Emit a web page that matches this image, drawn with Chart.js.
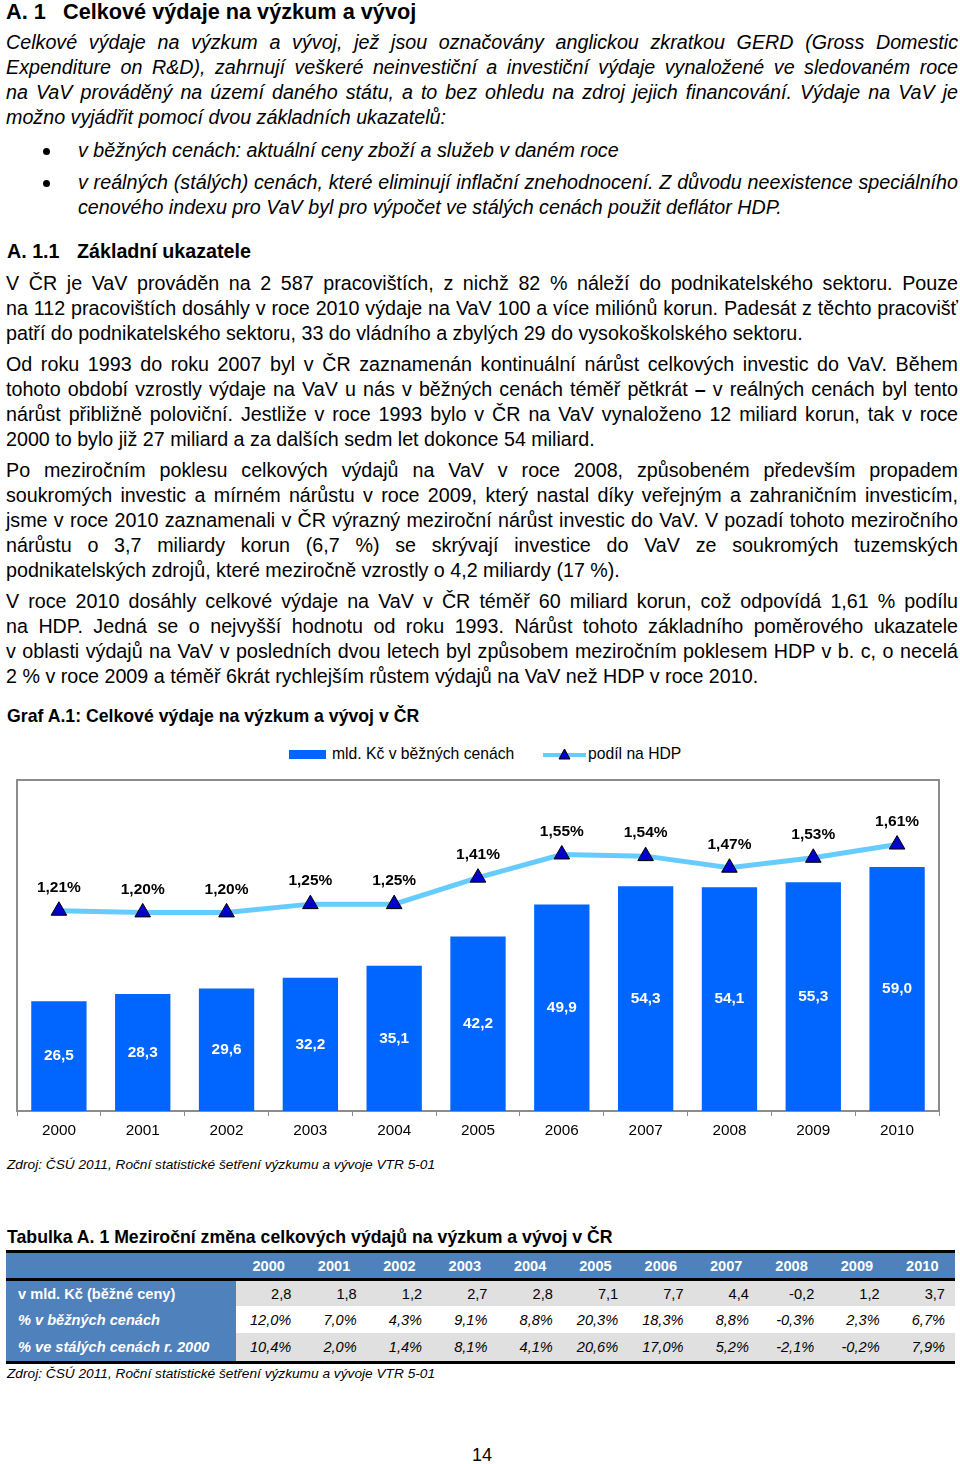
<!DOCTYPE html>
<html lang="cs">
<head>
<meta charset="utf-8">
<script src="https://cdn.jsdelivr.net/npm/chart.js@4.4.1/dist/chart.umd.min.js"></script>
<style>
body { margin: 0; background: #fff; }
#page { position: relative; width: 960px; height: 1464px; font-family: "Liberation Sans", Arial, sans-serif; color: #000; overflow: hidden; }
.ln { position: absolute; left: 6px; width: 952px; height: 25px; line-height: 25px; font-size: 19.7px; white-space: nowrap; }
.j { text-align: justify; text-align-last: justify; }
.i { font-style: italic; }
.b { font-weight: bold; }
.abs { position: absolute; white-space: nowrap; }
.bul { position: absolute; left: 43px; width: 7px; height: 7px; border-radius: 50%; background: #000; }
#graf { position: absolute; left: 7px; top: 770px; }
#tbl { position: absolute; left: 6px; top: 1250px; width: 949px; border-top: 3px solid #000; border-bottom: 3px solid #000;
       display: grid; grid-template-columns: 230px repeat(11, 1fr); grid-template-rows: 25px 3px 25px 27px 28px; font-size: 14.6px; }
#tbl div { display: flex; align-items: center; }
#tbl .hd { background: #4F81BD; color: #fff; font-weight: bold; justify-content: center; }
#tbl .lab { background: #4F81BD; color: #fff; font-weight: bold; padding-left: 12px; }
#tbl .num { justify-content: flex-end; padding-right: 10px; }
#tbl .sep { grid-column: 1 / -1; background: #000; }
</style>
</head>
<body>
<div id="page">
  <div class="abs b" style="left:6px;top:-1px;font-size:21.7px;line-height:26px;">A. 1</div>
  <div class="abs b" style="left:63px;top:-1px;font-size:21.7px;line-height:26px;">Celkové výdaje na výzkum a vývoj</div>

  <div class="ln i j" style="top:30px;">Celkové výdaje na výzkum a vývoj, jež jsou označovány anglickou zkratkou GERD (Gross Domestic</div>
  <div class="ln i j" style="top:55px;">Expenditure on R&amp;D), zahrnují veškeré neinvestiční a investiční výdaje vynaložené ve sledovaném roce</div>
  <div class="ln i j" style="top:80px;">na VaV prováděný na území daného státu, a to bez ohledu na zdroj jejich financování. Výdaje na VaV je</div>
  <div class="ln i" style="top:105px;">možno vyjádřit pomocí dvou základních ukazatelů:</div>

  <div class="bul" style="top:148px;"></div>
  <div class="ln i" style="top:138px;left:78px;width:880px;">v běžných cenách: aktuální ceny zboží a služeb v daném roce</div>
  <div class="bul" style="top:180px;"></div>
  <div class="ln i j" style="top:170px;left:78px;width:880px;">v reálných (stálých) cenách, které eliminují inflační znehodnocení. Z důvodu neexistence speciálního</div>
  <div class="ln i" style="top:195px;left:78px;width:880px;">cenového indexu pro VaV byl pro výpočet ve stálých cenách použit deflátor HDP.</div>

  <div class="abs b" style="left:7px;top:239px;font-size:19.7px;line-height:25px;">A. 1.1</div>
  <div class="abs b" style="left:77px;top:239px;font-size:19.7px;line-height:25px;">Základní ukazatele</div>

  <div class="ln j" style="top:271px;">V ČR je VaV prováděn na 2 587 pracovištích, z nichž 82 % náleží do podnikatelského sektoru. Pouze</div>
  <div class="ln j" style="top:296px;">na 112 pracovištích dosáhly v roce 2010 výdaje na VaV 100 a více miliónů korun. Padesát z těchto pracovišť</div>
  <div class="ln" style="top:321px;">patří do podnikatelského sektoru, 33 do vládního a zbylých 29 do vysokoškolského sektoru.</div>

  <div class="ln j" style="top:352px;">Od roku 1993 do roku 2007 byl v ČR zaznamenán kontinuální nárůst celkových investic do VaV. Během</div>
  <div class="ln j" style="top:377px;">tohoto období vzrostly výdaje na VaV u nás v běžných cenách téměř pětkrát <b>–</b> v reálných cenách byl tento</div>
  <div class="ln j" style="top:402px;">nárůst přibližně poloviční. Jestliže v roce 1993 bylo v ČR na VaV vynaloženo 12 miliard korun, tak v roce</div>
  <div class="ln" style="top:427px;">2000 to bylo již 27 miliard a za dalších sedm let dokonce 54 miliard.</div>

  <div class="ln j" style="top:458px;">Po meziročním poklesu celkových výdajů na VaV v roce 2008, způsobeném především propadem</div>
  <div class="ln j" style="top:483px;">soukromých investic a mírném nárůstu v roce 2009, který nastal díky veřejným a zahraničním investicím,</div>
  <div class="ln j" style="top:508px;">jsme v roce 2010 zaznamenali v ČR výrazný meziroční nárůst investic do VaV. V pozadí tohoto meziročního</div>
  <div class="ln j" style="top:533px;">nárůstu o 3,7 miliardy korun (6,7 %) se skrývají investice do VaV ze soukromých tuzemských</div>
  <div class="ln" style="top:558px;">podnikatelských zdrojů, které meziročně vzrostly o 4,2 miliardy (17 %).</div>

  <div class="ln j" style="top:589px;">V roce 2010 dosáhly celkové výdaje na VaV v ČR téměř 60 miliard korun, což odpovídá 1,61 % podílu</div>
  <div class="ln j" style="top:614px;">na HDP. Jedná se o nejvyšší hodnotu od roku 1993. Nárůst tohoto základního poměrového ukazatele</div>
  <div class="ln j" style="top:639px;">v oblasti výdajů na VaV v posledních dvou letech byl způsobem meziročním poklesem HDP v b. c, o necelá</div>
  <div class="ln" style="top:664px;">2 % v roce 2009 a téměř 6krát rychlejším růstem výdajů na VaV než HDP v roce 2010.</div>

  <div class="abs b" style="left:7px;top:704px;font-size:17.7px;line-height:24px;">Graf A.1: Celkové výdaje na výzkum a vývoj v ČR</div>

  <!-- legend -->
  <div class="abs" style="left:289px;top:750px;width:37px;height:9px;background:#0066FF;"></div>
  <div class="abs" style="left:332px;top:744px;font-size:15.7px;line-height:20px;">mld. Kč v běžných cenách</div>
  <div class="abs" style="left:543px;top:753px;width:43px;height:4px;background:#66CCFF;"></div>
  <svg class="abs" style="left:558px;top:748px;" width="13" height="12"><polygon points="6.5,1 12,11 1,11" fill="#0000CC" stroke="#000" stroke-width="1"/></svg>
  <div class="abs" style="left:588px;top:744px;font-size:15.7px;line-height:20px;">podíl na HDP</div>

  <canvas id="graf" width="942" height="375"></canvas>

  <div class="abs i" style="left:7px;top:1156px;font-size:13.7px;line-height:18px;">Zdroj: ČSÚ 2011, Roční statistické šetření výzkumu a vývoje VTR 5-01</div>

  <div class="abs b" style="left:7px;top:1225px;font-size:17.7px;line-height:24px;">Tabulka A. 1 Meziroční změna celkových výdajů na výzkum a vývoj v ČR</div>
  <div id="tbl"></div>
  <div class="abs i" style="left:7px;top:1365px;font-size:13.7px;line-height:18px;">Zdroj: ČSÚ 2011, Roční statistické šetření výzkumu a vývoje VTR 5-01</div>

  <div class="abs" style="left:472px;top:1444px;font-size:18px;line-height:22px;">14</div>
</div>

<script>
// data
const years = ['2000', '2001', '2002', '2003', '2004', '2005', '2006', '2007', '2008', '2009', '2010'];
const spendingBn = [26.5, 28.3, 29.6, 32.2, 35.1, 42.2, 49.9, 54.3, 54.1, 55.3, 59.0];
const gdpSharePct = [1.21, 1.20, 1.20, 1.25, 1.25, 1.41, 1.55, 1.54, 1.47, 1.53, 1.61];

// table values
const changeBn = [2.8, 1.8, 1.2, 2.7, 2.8, 7.1, 7.7, 4.4, -0.2, 1.2, 3.7];
const changeCurrentPct = [12.0, 7.0, 4.3, 9.1, 8.8, 20.3, 18.3, 8.8, -0.3, 2.3, 6.7];
const changeConstantPct = [10.4, 2.0, 1.4, 8.1, 4.1, 20.6, 17.0, 5.2, -2.1, -0.2, 7.9];

const FONT = '"Liberation Sans", Arial, sans-serif';
const fmt = (v, d) => v.toFixed(d).replace('.', ',');

// grey frame round the plot area (left, top, right)
const frame = {
    id: 'frame',
    beforeDatasetsDraw(chart) {
        const { ctx, chartArea: a } = chart;
        ctx.save();
        ctx.strokeStyle = '#8c8c8c';
        ctx.lineWidth = 2;
        ctx.beginPath();
        ctx.moveTo(a.left, a.bottom);
        ctx.lineTo(a.left, a.top);
        ctx.lineTo(a.right, a.top);
        ctx.lineTo(a.right, a.bottom);
        ctx.stroke();
        ctx.restore();
    }
};

const valueLabels = {
    id: 'valueLabels',
    afterDatasetsDraw(chart) {
        const ctx = chart.ctx;
        ctx.save();
        ctx.textAlign = 'center';
        ctx.textBaseline = 'middle';
        ctx.font = 'bold 15.4px ' + FONT;
        ctx.fillStyle = '#fff';
        chart.getDatasetMeta(0).data.forEach((bar, i) => {
            ctx.fillText(fmt(spendingBn[i], 1), bar.x, (bar.y + bar.base) / 2);
        });
        ctx.font = 'bold 15.5px ' + FONT;
        ctx.fillStyle = '#000';
        chart.getDatasetMeta(1).data.forEach((pt, i) => {
            ctx.fillText(fmt(gdpSharePct[i], 2) + '%', pt.x, pt.y - 23);
        });
        ctx.restore();
    }
};

new Chart(document.getElementById('graf'), {
    type: 'bar',
    data: {
        labels: years,
        datasets: [{
            type: 'bar',
            label: 'mld. Kč v běžných cenách',
            data: spendingBn,
            backgroundColor: '#0066FF',
            yAxisID: 'y',
            order: 2,
            barPercentage: 0.66,
            categoryPercentage: 1
        }, {
            type: 'line',
            label: 'podíl na HDP',
            data: gdpSharePct,
            yAxisID: 'y1',
            order: 1,
            borderColor: '#66CCFF',
            borderWidth: 5,
            tension: 0,
            pointStyle: 'triangle',
            pointRadius: 9,
            pointBackgroundColor: '#0000CC',
            pointBorderColor: '#000',
            pointBorderWidth: 1
        }]
    },
    options: {
        responsive: false,
        animation: false,
        layout: { padding: { left: 10, right: 10, top: 10, bottom: 0 } },
        plugins: { legend: { display: false }, tooltip: { enabled: false } },
        scales: {
            x: {
                grid: { drawOnChartArea: false, tickLength: 5, color: '#8c8c8c', offset: true },
                border: { color: '#8c8c8c', width: 2 },
                ticks: { color: '#000', padding: 6, font: { size: 15.3, family: FONT } },
                afterFit(scale) { scale.height = 34; }
            },
            y: { display: false, min: 0, max: 80 },
            y1: { display: false, min: 0, max: 2 }
        }
    },
    plugins: [frame, valueLabels]
});

// table
const tbl = document.getElementById('tbl');
function cell(cls, text, style) {
    const d = document.createElement('div');
    d.className = cls;
    d.textContent = text;
    if (style) d.style.cssText = style;
    tbl.appendChild(d);
}
cell('hd', '');
years.forEach(y => cell('hd', y));
cell('sep', '');
const rows = [
    ['v mld. Kč (běžné ceny)', changeBn, v => fmt(v, 1), '#E0E0E0', ''],
    ['% v běžných cenách', changeCurrentPct, v => fmt(v, 1) + '%', '#fff', 'font-style:italic;'],
    ['% ve stálých cenách r. 2000', changeConstantPct, v => fmt(v, 1) + '%', '#E0E0E0', 'font-style:italic;']
];
rows.forEach(([label, vals, f, bg, st]) => {
    cell('lab', label, st);
    vals.forEach(v => cell('num', f(v), 'background:' + bg + ';' + st));
});
</script>
</body>
</html>
